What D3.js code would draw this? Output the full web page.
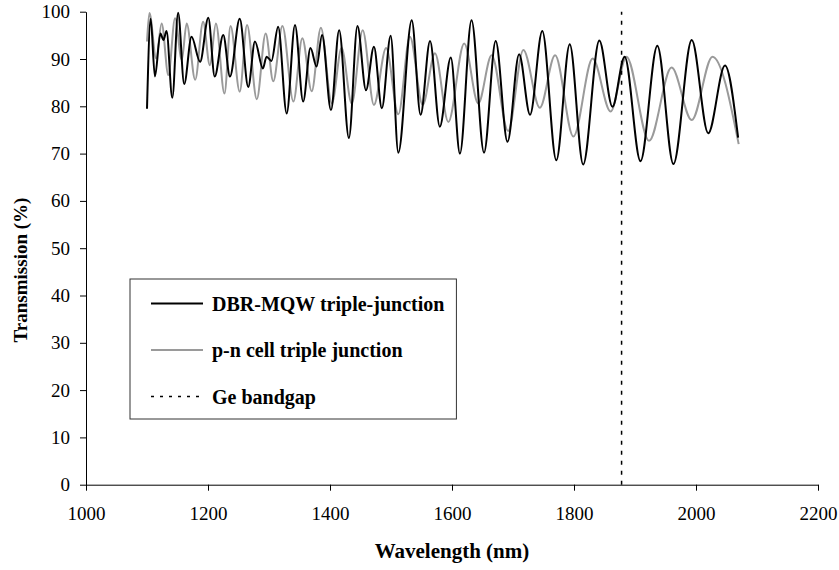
<!DOCTYPE html>
<html>
<head>
<meta charset="utf-8">
<script src="https://cdn.jsdelivr.net/npm/d3@7"></script>
<style>
  body { margin: 0; background: #fff; }
  svg text { font-family: "Liberation Serif", "Times New Roman", serif; fill: #000; }
</style>
</head>
<body>
<div id="chart"></div>
<script>
// DBR-MQW triple-junction (wavelength nm, transmission %)
var dbrWavelength = [1100, 1106, 1113, 1122, 1127, 1132, 1141.5, 1151, 1161, 1173, 1187, 1200.5, 1211, 1225, 1236, 1252, 1266, 1277, 1290, 1296, 1304, 1315, 1329, 1342.6, 1356, 1368, 1378, 1387, 1401.6, 1415, 1431, 1445, 1459, 1472, 1485, 1499.5, 1512, 1534, 1548.5, 1564, 1580, 1598, 1613, 1632, 1652.5, 1671.6, 1691, 1710, 1728, 1748, 1771, 1793, 1815, 1841.5, 1863, 1883, 1909, 1936.6, 1963, 1993, 2020, 2047.5, 2069];
var dbrTransmission = [79.5, 98.5, 86.3, 95.4, 94, 95.9, 81.8, 99.8, 84.7, 94.7, 89.4, 98.7, 86.3, 95.1, 86.3, 98.5, 84.1, 93.7, 88, 90.5, 89.6, 96.8, 78.5, 97.2, 81, 92.3, 88.4, 95.1, 79.2, 96.1, 73.3, 97, 83.4, 92.6, 79.6, 94.9, 70.2, 98.2, 78.2, 93.8, 75.7, 90.3, 70, 98.2, 70.2, 93.8, 72.5, 91, 78.2, 95.9, 68.6, 93.1, 67.7, 93.9, 79.9, 90.5, 68.4, 92.8, 67.8, 94, 74.3, 88.6, 73.4];

// p-n cell triple junction
var pnWavelength = [1100, 1104, 1115, 1124, 1135, 1146, 1157, 1165, 1179, 1192, 1203, 1213, 1227, 1237, 1252, 1264, 1280, 1294.5, 1307, 1322, 1340, 1354.6, 1370, 1385, 1403, 1419, 1435.6, 1453.6, 1472, 1492, 1512, 1531, 1552, 1572, 1594, 1620, 1643, 1665, 1692, 1717, 1744, 1769, 1799, 1830.6, 1860, 1886, 1923, 1960, 1993, 2027, 2070];
var pnTransmission = [93.7, 99.7, 90.1, 97.5, 86.6, 98.6, 89.8, 97.5, 85.6, 97.9, 88.7, 97.5, 82.7, 97, 83.1, 97.2, 81.5, 95.4, 85.3, 97, 81, 94.4, 83.2, 96.6, 80.6, 92.3, 80.6, 96.1, 80.3, 92.3, 78.3, 94.7, 80.3, 91.2, 76.7, 93.3, 80.6, 90.8, 74.8, 91.9, 79.7, 90.8, 73.6, 90.1, 78.9, 90.5, 72.7, 88.2, 77.1, 90.5, 72];

var geBandgap = 1878;
var xTicks = [1000, 1200, 1400, 1600, 1800, 2000, 2200];
var yTicks = [0, 10, 20, 30, 40, 50, 60, 70, 80, 90, 100];
var legendLabels = ["DBR-MQW triple-junction", "p-n cell triple junction", "Ge bandgap"];

var width = 839, height = 570;
var margin = { top: 11.7, right: 21, bottom: 85.3, left: 86 };
var plotW = width - margin.left - margin.right,
    plotH = height - margin.top - margin.bottom;

var svg = d3.select("#chart").append("svg")
    .attr("width", width)
    .attr("height", height);

var g = svg.append("g")
    .attr("transform", "translate(" + margin.left + "," + margin.top + ")");

var x = d3.scaleLinear().domain([1000, 2200]).range([0, plotW]);
var y = d3.scaleLinear().domain([0, 100]).range([plotH, 0]);

// axes
var xAxis = g.append("g")
    .attr("transform", "translate(0," + plotH + ")")
    .call(d3.axisBottom(x).tickValues(xTicks).tickFormat(d3.format("d"))
        .tickSize(6).tickPadding(16).tickSizeOuter(0));
var yAxis = g.append("g")
    .call(d3.axisLeft(y).tickValues(yTicks).tickFormat(d3.format("d"))
        .tickSize(6).tickPadding(10).tickSizeOuter(0));

[xAxis, yAxis].forEach(function (ax) {
    ax.selectAll("path, line").attr("stroke", "#000").attr("stroke-width", 1);
    ax.selectAll("text").style("font-size", "19px").attr("fill", "#000");
});

// lines
var line = d3.line()
    .x(function (d) { return x(d[0]); })
    .y(function (d) { return y(d[1]); })
    .curve(d3.curveMonotoneX);

var pnData = pnWavelength.map(function (w, i) { return [w, pnTransmission[i]]; });
var dbrData = dbrWavelength.map(function (w, i) { return [w, dbrTransmission[i]]; });

g.append("path")
    .datum(pnData)
    .attr("d", line)
    .attr("fill", "none")
    .attr("stroke", "#9a9a9a")
    .attr("stroke-width", 2);

g.append("path")
    .datum(dbrData)
    .attr("d", line)
    .attr("fill", "none")
    .attr("stroke", "#000")
    .attr("stroke-width", 2);

// Ge bandgap marker
g.append("line")
    .attr("x1", x(geBandgap)).attr("x2", x(geBandgap))
    .attr("y1", y(0)).attr("y2", y(100))
    .attr("stroke", "#000")
    .attr("stroke-width", 1.5)
    .attr("stroke-dasharray", "4,6");

// axis titles
svg.append("text")
    .attr("x", margin.left + plotW / 2)
    .attr("y", 558)
    .attr("text-anchor", "middle")
    .style("font-size", "21px")
    .style("font-weight", "bold")
    .text("Wavelength (nm)");

svg.append("text")
    .attr("transform", "translate(27,270) rotate(-90)")
    .attr("text-anchor", "middle")
    .style("font-size", "19px")
    .style("font-weight", "bold")
    .text("Transmission (%)");

// legend
var legend = svg.append("g");
var box = legend.append("rect")
    .attr("x", 130).attr("y", 279)
    .attr("height", 140)
    .attr("fill", "#fff")
    .attr("stroke", "#333")
    .attr("stroke-width", 1);

var legendStyles = [
    { stroke: "#000", dash: null, w: 2 },
    { stroke: "#9a9a9a", dash: null, w: 2 },
    { stroke: "#000", dash: "3,6", w: 1.5 }
];
var rowY = [303.5, 350, 396.5];
var maxEnd = 0;
legendLabels.forEach(function (label, i) {
    legend.append("line")
        .attr("x1", 151).attr("x2", 203)
        .attr("y1", rowY[i]).attr("y2", rowY[i])
        .attr("stroke", legendStyles[i].stroke)
        .attr("stroke-width", legendStyles[i].w)
        .attr("stroke-dasharray", legendStyles[i].dash);
    var t = legend.append("text")
        .attr("x", 212)
        .attr("y", rowY[i] + 7)
        .style("font-size", "20px")
        .style("font-weight", "bold")
        .text(label);
    maxEnd = Math.max(maxEnd, 212 + t.node().getComputedTextLength());
});
box.attr("width", maxEnd + 12 - 130);
</script>
</body>
</html>
